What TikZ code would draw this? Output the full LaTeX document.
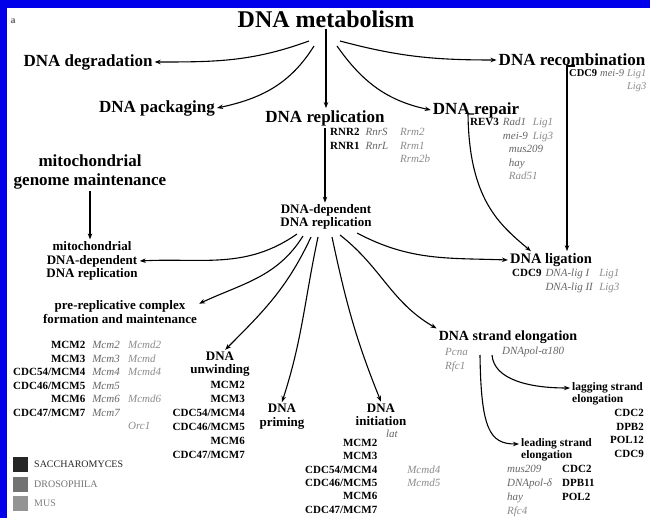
\documentclass[tikz,border=0pt]{standalone}
\usepackage{fontspec}
\setmainfont{Liberation Serif}
\usetikzlibrary{arrows.meta}
\definecolor{dro}{gray}{0.40}
\definecolor{musgray}{gray}{0.55}
\definecolor{frameblue}{RGB}{0,0,235}
\newcommand\gY[1]{\textbf{#1}}
\newcommand\gD[1]{\textcolor{dro}{\textit{#1}}}
\newcommand\gM[1]{\textcolor{musgray}{\textit{#1}}}
\tikzset{
  titlebox/.style={font=\fontsize{24}{25}\selectfont\bfseries, inner sep=1pt},
  hd/.style={font=\fontsize{17}{18}\selectfont\bfseries, inner sep=2pt, align=center},
  subhd/.style={font=\fontsize{13}{13}\selectfont\bfseries, inner sep=2pt, align=center},
  smallhd/.style={font=\fontsize{11.5}{12}\selectfont\bfseries, inner sep=2pt, align=left},
  genes/.style={font=\fontsize{11}{13.5}\selectfont, inner sep=2pt},
  arr/.style={-{Stealth[length=6pt,width=4.5pt]}, line width=1.1pt},
  legsq/.style={minimum size=15pt, inner sep=0pt},
  legtxt/.style={font=\fontsize{10}{11}\selectfont, inner sep=1pt, anchor=west},
}
\begin{document}
\begin{tikzpicture}[x=1pt,y=-1pt]
\useasboundingbox (0,0) rectangle (650,518);
\fill[white] (0,0) rectangle (650,518);
\fill[frameblue] (0,0) rectangle (650,8);
\fill[frameblue] (0,0) rectangle (7,518);

% panel letter
\node[font=\fontsize{10}{11}\selectfont\bfseries, text=dro] (pa) at (13,21) {a};

% top level
\node[titlebox] (met) at (326,19) {DNA metabolism};
\node[hd] (degr) at (88,62) {DNA degradation};
\node[hd] (pack) at (157,108) {DNA packaging};
\node[hd] (repl) at (325,118) {DNA replication};
\node[hd] (rep) at (476,110) {DNA repair};
\node[hd] (rec) at (572,60) {DNA recombination};

% gene lists upper
\node[genes, anchor=north west] (replg) at (328,124) {%
  \begin{tabular}{@{}l@{\hspace{6pt}}l@{\hspace{12pt}}l@{}}
  \gY{RNR2} & \gD{RnrS} & \gM{Rrm2}\\
  \gY{RNR1} & \gD{RnrL} & \gM{Rrm1}\\
            &           & \gM{Rrm2b}
  \end{tabular}};
\node[genes, anchor=north west] (repg) at (468,114) {%
  \begin{tabular}{@{}l@{\hspace{4pt}}l@{\hspace{5pt}}l@{}}
  \gY{REV3} & \gD{Rad1} & \gM{Lig1}\\
            & \gD{mei-9} & \gM{Lig3}\\
            & \multicolumn{2}{l}{\gD{mus209}}\\
            & \multicolumn{2}{l}{\gD{hay}}\\
            & \multicolumn{2}{l}{\gM{Rad51}}
  \end{tabular}};
\node[genes, font=\fontsize{10.5}{12.5}\selectfont, anchor=north west] (recg) at (567,66) {%
  \begin{tabular}{@{}l@{\hspace{3pt}}l@{\hspace{3pt}}r@{}}
  \gY{CDC9} & \gD{mei-9} & \gM{Lig1}\\
            &            & \gM{Lig3}
  \end{tabular}};

% mitochondrial
\node[hd, font=\fontsize{17}{18.5}\selectfont\bfseries] (mgm) at (90,172) {mitochondrial\\genome maintenance};
\node[subhd, font=\fontsize{13}{13.5}\selectfont\bfseries] (mdd) at (92,261) {mitochondrial\\DNA-dependent\\DNA replication};

% DNA-dependent DNA replication
\node[subhd, font=\fontsize{13}{12.5}\selectfont\bfseries] (dd) at (326,217) {DNA-dependent\\DNA replication};

% ligation
\node[hd, font=\fontsize{14.5}{16}\selectfont\bfseries] (lig) at (551,260) {DNA ligation};
\node[genes, font=\fontsize{11}{14}\selectfont, anchor=north west] (ligg) at (510,265) {%
  \begin{tabular}{@{}l@{\hspace{4pt}}l@{\hspace{6pt}}l@{}}
  \gY{CDC9} & \gD{DNA-lig I} & \gM{Lig1}\\
            & \gD{DNA-lig II} & \gM{Lig3}
  \end{tabular}};

% pre-replicative
\node[subhd, font=\fontsize{13}{14}\selectfont\bfseries] (prc) at (120,312) {pre-replicative complex\\formation and maintenance};
\node[genes, anchor=north west] (prcg) at (11,337) {%
  \begin{tabular}{@{}r@{\hspace{7pt}}l@{\hspace{8pt}}l@{}}
  \gY{MCM2} & \gD{Mcm2} & \gM{Mcmd2}\\
  \gY{MCM3} & \gD{Mcm3} & \gM{Mcmd}\\
  \gY{CDC54/MCM4} & \gD{Mcm4} & \gM{Mcmd4}\\
  \gY{CDC46/MCM5} & \gD{Mcm5} & \\
  \gY{MCM6} & \gD{Mcm6} & \gM{Mcmd6}\\
  \gY{CDC47/MCM7} & \gD{Mcm7} & \\
            &           & \gM{Orc1}
  \end{tabular}};

% unwinding
\node[subhd, font=\fontsize{13}{12.5}\selectfont\bfseries] (unw) at (220,364) {DNA\\unwinding};
\node[genes, font=\fontsize{11}{14}\selectfont, anchor=north east] (unwg) at (247,376) {%
  \begin{tabular}{@{}r@{}}
  \gY{MCM2}\\ \gY{MCM3}\\ \gY{CDC54/MCM4}\\ \gY{CDC46/MCM5}\\ \gY{MCM6}\\ \gY{CDC47/MCM7}
  \end{tabular}};

% priming
\node[subhd, font=\fontsize{13}{14}\selectfont\bfseries] (pri) at (282,417) {DNA\\priming};

% initiation
\node[subhd, font=\fontsize{13}{13.5}\selectfont\bfseries] (ini) at (381,415) {DNA\\initiation};
\node[genes] (lat) at (392,434) {\gD{lat}};
\node[genes, font=\fontsize{11}{13.3}\selectfont, anchor=north west] (inig) at (303,435) {%
  \begin{tabular}{@{}r@{\hspace{30pt}}l@{}}
  \gY{MCM2} & \\
  \gY{MCM3} & \\
  \gY{CDC54/MCM4} & \gM{Mcmd4}\\
  \gY{CDC46/MCM5} & \gM{Mcmd5}\\
  \gY{MCM6} & \\
  \gY{CDC47/MCM7} &
  \end{tabular}};

% strand elongation
\node[hd, font=\fontsize{14}{15}\selectfont\bfseries] (sel) at (508,337) {DNA strand elongation};
\node[genes, anchor=north west] (selg) at (443,344) {%
  \begin{tabular}{@{}l@{}}
  \gM{Pcna}\\ \gM{Rfc1}
  \end{tabular}};
\node[genes, anchor=west] (selg2) at (500,352) {\gD{DNApol-α180}};

\node[smallhd, anchor=west] (lag) at (570,394) {lagging strand\\elongation};
\node[genes, font=\fontsize{11}{13.6}\selectfont, anchor=north east] (lagg) at (646,405) {%
  \begin{tabular}{@{}r@{}}
  \gY{CDC2}\\ \gY{DPB2}\\ \gY{POL12}\\ \gY{CDC9}
  \end{tabular}};

\node[smallhd, anchor=west] (lead) at (519,450) {leading strand\\elongation};
\node[genes, font=\fontsize{11}{14}\selectfont, anchor=north west] (leadg) at (505,460) {%
  \begin{tabular}{@{}l@{\hspace{10pt}}l@{}}
  \gD{mus209} & \gY{CDC2}\\
  \gD{DNApol-δ} & \gY{DPB11}\\
  \gD{hay} & \gY{POL2}\\
  \gM{Rfc4} &
  \end{tabular}};

% legend
\node[legsq, fill=black!85] (sq1) at (20.5,464.5) {};
\node[legsq, fill=black!55] (sq2) at (20.5,484.5) {};
\node[legsq, fill=black!42] (sq3) at (20.5,503.5) {};
\node[legtxt, text=black!85] (l1) at (33,464) {SACCHAROMYCES};
\node[legtxt, text=black!55] (l2) at (33,484) {DROSOPHILA};
\node[legtxt, text=black!50] (l3) at (33,503) {MUS};

% connectors from DNA metabolism
\coordinate (m1) at (309,41);
\coordinate (m2) at (314,46);
\coordinate (m3) at (337,46);
\coordinate (m4) at (340,41);
\draw[arr] (m1) to[out=200,in=0] (degr.east);
\draw[arr] (m2) to[out=238,in=12] (pack.east);
\draw[arr] (met.south) -- (met.south |- repl.north);
\draw[arr] (m3) to[out=-55,in=168] (rep.west);
\draw[arr] (m4) to[out=-15,in=180] (rec.west);

% replication down
\draw[arr] (repl.south) -- (repl.south |- dd.north);
\draw[arr] (mgm.south) -- (mgm.south |- mdd.north);

% repair and recombination to ligation
\draw[arr] ([xshift=6pt]repg.north west) -- (repg.north west) .. controls (469,200) and (500,225) .. ([xshift=23pt]lig.north west);
\draw[arr] ([xshift=8pt]recg.north west) -- (recg.north west) -- (recg.north west |- lig.north);

% fan from DNA-dependent DNA replication
\coordinate (f1) at (297,234);
\coordinate (f2) at (303,236);
\coordinate (f3) at (311,237);
\coordinate (f4) at (318,237);
\coordinate (f5) at (332,237);
\coordinate (f6) at (340,235);
\coordinate (f7) at (357,233);
\draw[arr] (f1) to[out=215,in=3] (mdd.east);
\draw[arr] (f2) to[out=238,in=25] (prc.6);
\draw[arr] (f3) to[out=245,in=45] (unw.70);
\draw[arr] (f4) to[out=258,in=72] (pri.north);
\draw[arr] (f5) to[out=-78,in=112] (ini.north);
\draw[arr] (f6) to[out=-38,in=150] (sel.north west);
\draw[arr] (f7) to[out=-28,in=178] (lig.west);

% strand elongation branches
\coordinate (s1) at (492,355);
\coordinate (s2) at (480,355);
\draw[arr] (s1) .. controls (494,380) and (530,388) .. ([yshift=6pt]lag.west);
\draw[arr] (s2) .. controls (481,430) and (490,444) .. ([yshift=6pt]lead.west);
\end{tikzpicture}
\end{document}
